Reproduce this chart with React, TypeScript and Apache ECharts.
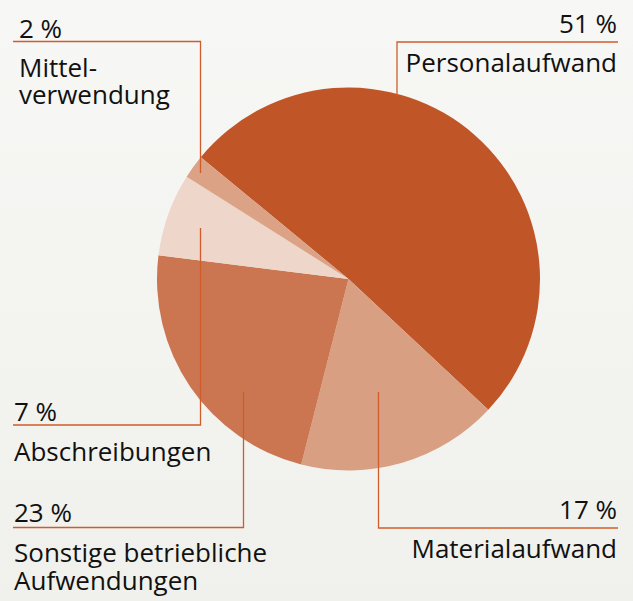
import React, { useEffect, useRef } from "react";
import * as echarts from "echarts";

const categories = [
  "Personalaufwand",
  "Materialaufwand",
  "Sonstige betriebliche\nAufwendungen",
  "Abschreibungen",
  "Mittel-\nverwendung",
];
const values = [51, 17, 23, 7, 2];
const colors = ["#c05628", "#d89f82", "#cb7650", "#eed6ca", "#dba286"];

const LINE = "#cf5c2a";
const FONT = "Open Sans";
const FS = 26;

export default function App() {
  const ref = useRef<HTMLDivElement>(null);
  useEffect(() => {
    document.body.style.margin = "0";
    const chart = echarts.init(ref.current!, null, { renderer: "svg" });
    const pct = (i: number) => `${values[i]} %`;
    const line = (pts: number[][]) => ({
      type: "polyline",
      shape: { points: pts },
      style: { stroke: LINE, lineWidth: 1.3, fill: "none" },
      z: 10,
    });
    // y = baseline
    const txt = (x: number, y: number, s: string, align: string) => ({
      type: "text",
      x,
      y: y + 5,
      style: {
        text: s,
        fill: "#111",
        font: `${FS}px "${FONT}"`,
        textAlign: align,
        textVerticalAlign: "bottom",
        lineHeight: 26,
      },
      z: 10,
    });
    const multi = (x: number, y: number, s: string, align: string, gap: number) =>
      s.split("\n").map((ln, k) => txt(x, y + k * gap, ln, align));
    chart.setOption({
      animation: false,
      backgroundColor: {
        type: "linear",
        x: 0,
        y: 0,
        x2: 0,
        y2: 1,
        colorStops: [
          { offset: 0, color: "#f7f7f5" },
          { offset: 1, color: "#f0f1ec" },
        ],
      },
      series: [
        {
          type: "pie",
          center: [348.5, 279],
          radius: 191.5,
          startAngle: 140.5,
          clockwise: true,
          label: { show: false },
          labelLine: { show: false },
          emphasis: { disabled: true },
          itemStyle: { borderWidth: 0 },
          data: categories.map((c, i) => ({
            name: c,
            value: values[i],
            itemStyle: { color: colors[i] },
          })),
        },
      ],
      graphic: [
        // Personalaufwand
        line([[397, 96], [397, 42], [618, 42]]),
        txt(617, 31, pct(0), "right"),
        ...multi(617, 70, categories[0], "right", 28),
        // Materialaufwand
        line([[378.5, 392], [378.5, 528], [618, 528]]),
        txt(617, 517, pct(1), "right"),
        ...multi(617, 556, categories[1], "right", 28),
        // Sonstige
        line([[243.5, 392], [243.5, 527.5], [13, 527.5]]),
        txt(14, 520, pct(2), "left"),
        ...multi(14, 560, categories[2], "left", 28),
        // Abschreibungen
        line([[200.5, 228], [200.5, 425], [13, 425]]),
        txt(14, 419, pct(3), "left"),
        ...multi(14, 459, categories[3], "left", 28),
        // Mittelverwendung
        line([[200.5, 173], [200.5, 41.5], [13, 41.5]]),
        txt(19, 36, pct(4), "left"),
        ...multi(19, 75, categories[4], "left", 26.5),
      ],
    });
    return () => chart.dispose();
  }, []);
  return (
    <div
      ref={ref}
      style={{ position: "absolute", left: 0, top: 0, width: 633, height: 601 }}
    />
  );
}
